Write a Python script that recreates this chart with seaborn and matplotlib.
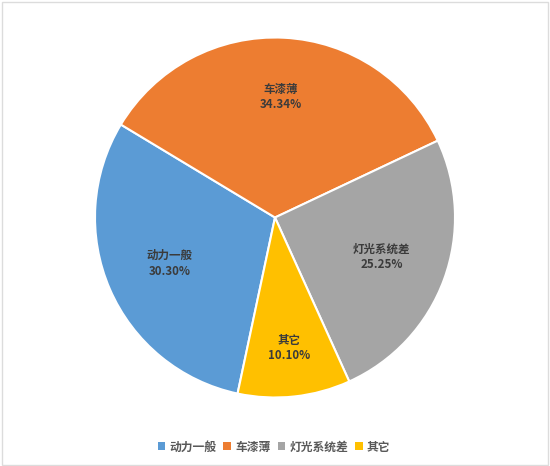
import matplotlib
matplotlib.use("Agg")
import matplotlib.pyplot as plt
import seaborn as sns
import numpy as np
from matplotlib.patches import Patch, Rectangle

sns.set_theme(style="white")
plt.rcParams['font.family'] = ['Noto Sans CJK SC', 'DejaVu Sans']

categories = ["动力一般", "车漆薄", "灯光系统差", "其它"]
values = [30.30, 34.34, 25.25, 10.10]
pct_labels = ["30.30%", "34.34%", "25.25%", "10.10%"]
colors = ["#5B9BD5", "#ED7D31", "#A5A5A5", "#FFC000"]
label_r = [0.64, 0.67, 0.63, 0.73]

W, H = 550, 466
fig = plt.figure(figsize=(W / 100, H / 100), dpi=100)
fig.patch.set_facecolor("white")
fig.patches.append(Rectangle((2 / W, 1.5 / H), (W - 4.5) / W, (H - 3.5) / H,
                             transform=fig.transFigure, fill=False,
                             edgecolor="#dcdcdc", linewidth=1.0))

cx, cy, R = 275, 217.5, 180
ax = fig.add_axes([(cx - R) / W, (H - cy - R) / H, 2 * R / W, 2 * R / H])
wedges, _ = ax.pie(values, colors=colors, startangle=258, counterclock=False,
                   radius=1.0,
                   wedgeprops=dict(edgecolor="white", linewidth=1.5))
ax.set_xlim(-1, 1)
ax.set_ylim(-1, 1)
ax.set_aspect("auto")
ax.axis("off")

for w, cat, pl, r in zip(wedges, categories, pct_labels, label_r):
    ang = np.deg2rad((w.theta1 + w.theta2) / 2)
    ax.text(r * np.cos(ang), r * np.sin(ang), f"{cat}\n{pl}",
            ha="center", va="center", fontsize=8.3, fontweight="bold",
            color="#3b3b3b", linespacing=1.25)

handles = [Patch(facecolor=c, edgecolor="none", label=l) for c, l in zip(colors, categories)]
leg = fig.legend(handles=handles, loc="center", bbox_to_anchor=(274 / W, 1 - 447 / H),
                 ncol=4, frameon=False, handlelength=0.65, handleheight=0.65,
                 handletextpad=0.35, columnspacing=0.6,
                 prop=dict(family=['Noto Sans CJK SC', 'DejaVu Sans'], size=8.5, weight="bold"))
for t in leg.get_texts():
    t.set_color("#595959")

fig.savefig("out.png", dpi=100, facecolor="white")
